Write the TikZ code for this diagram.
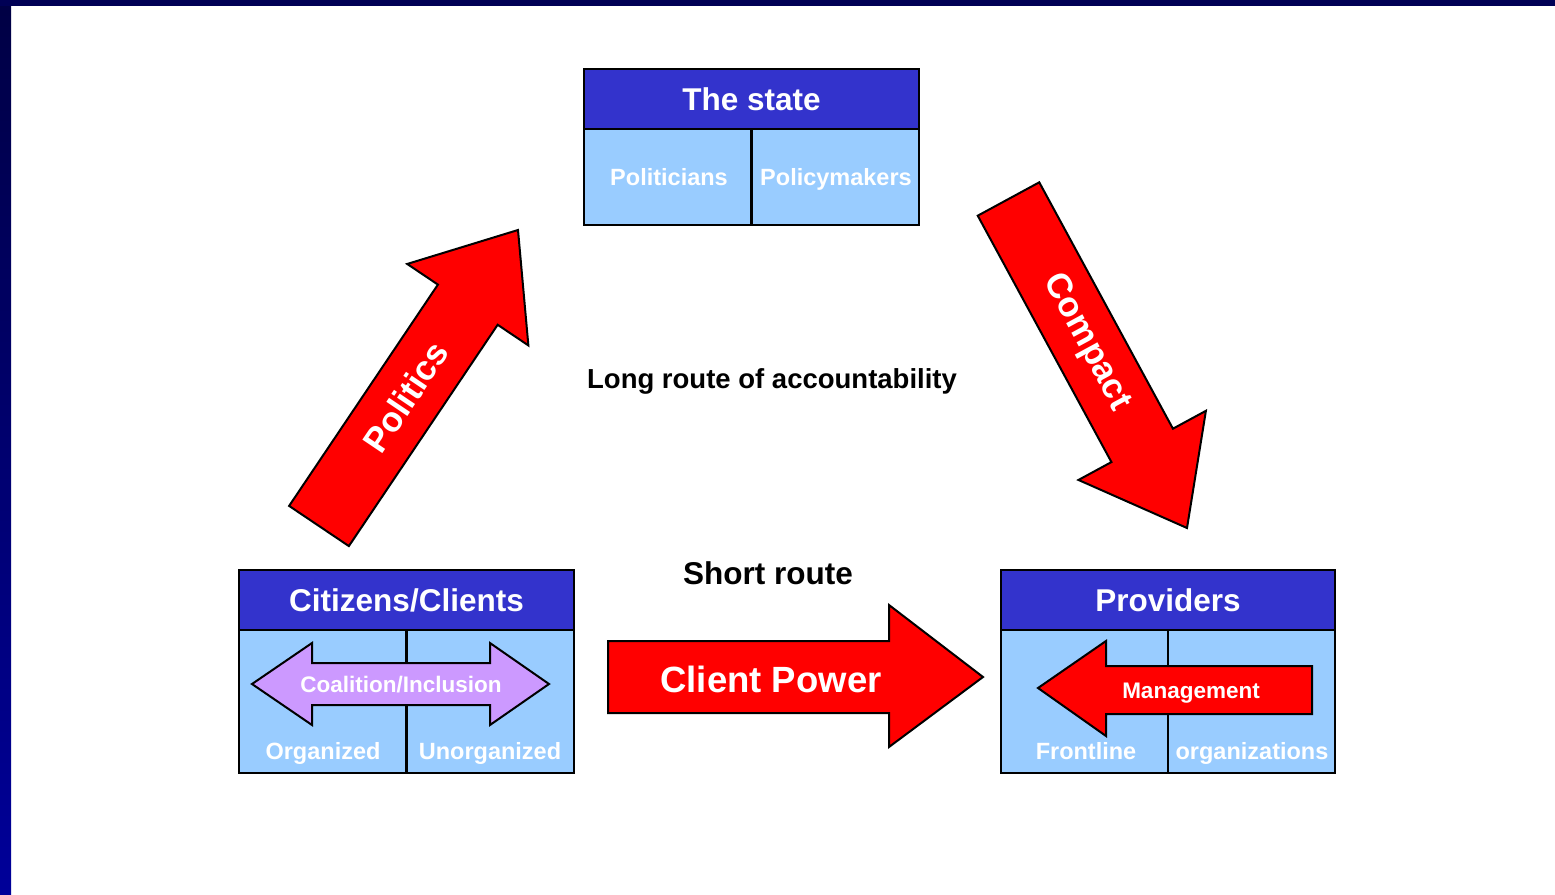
\documentclass[tikz,border=0pt]{standalone}
\usepackage{fontspec}
\setmainfont{Liberation Sans}
\usetikzlibrary{calc}
\definecolor{navy}{HTML}{000055}
\definecolor{hdblue}{HTML}{3333CC}
\definecolor{cellblue}{HTML}{99CCFF}
\definecolor{lilac}{HTML}{CC99FF}
\newcommand{\blockarrow}[6]{% name, tail, tip, half shaft, half head, head length
  \coordinate (#1-hb) at ($(#3)!#6!(#2)$);
  \draw[redarrow] ($(#2)!#4!90:(#3)$) -- ($(#1-hb)!#4!90:(#3)$) -- ($(#1-hb)!#5!90:(#3)$) -- (#3)
    -- ($(#1-hb)!#5!-90:(#3)$) -- ($(#1-hb)!#4!-90:(#3)$) -- ($(#2)!#4!-90:(#3)$) -- cycle;}
\tikzset{
  headbox/.style={draw=black,line width=2.5pt,fill=hdblue,text=white,outer sep=0pt,inner sep=0pt,
    minimum height=60pt,font=\fontsize{31.5}{31.5}\selectfont\bfseries},
  cellbox/.style={draw=black,line width=2.5pt,fill=cellblue,outer sep=0pt,inner sep=0pt},
  celltext/.style={text=white,text height=17pt,text depth=5pt,font=\fontsize{23.5}{23.5}\selectfont\bfseries},
  redarrow/.style={draw=black,line width=2pt,fill=red,line join=miter},
  arrowtext/.style={text=white,font=\fontsize{35}{35}\selectfont\bfseries},
  smalltext/.style={text=white,text height=16pt,text depth=5pt,font=\fontsize{22.5}{22.5}\selectfont\bfseries},
  routetext/.style={text=black,font=\bfseries},
}
\begin{document}
\begin{tikzpicture}[x=1pt,y=-1pt]
  \useasboundingbox (0,0) rectangle (1555,894);
  \fill[white] (0,0) rectangle (1555,894);
  \fill[top color=navy!80!black,bottom color={rgb,255:red,0;green,0;blue,153}] (0,0) rectangle (11,894);
  \fill[navy] (0,0) rectangle (1555,6);
  % the state
  \node[headbox,minimum width=335pt] (state) at (751.5,99) {The state};
  \node[cellbox,minimum width=167.5pt,minimum height=96pt,anchor=north west] (politicians) at (state.south west) {};
  \node[cellbox,minimum width=167.5pt,minimum height=96pt,anchor=north west] (policymakers) at (politicians.north east) {};
  \node[celltext] (politicianstext) at (669,179) {Politicians};
  \node[celltext] (policymakerstext) at (836,179) {Policymakers};
  % citizens
  \node[headbox,minimum width=335pt] (citizens) at (406.5,600) {Citizens/Clients};
  \node[cellbox,minimum width=167.5pt,minimum height=143pt,anchor=north west] (organized) at (citizens.south west) {};
  \node[cellbox,minimum width=167.5pt,minimum height=143pt,anchor=north west] (unorganized) at (organized.north east) {};
  \node[celltext] (organizedtext) at (323,753) {Organized};
  \node[celltext] (unorganizedtext) at (490,753) {Unorganized};
  % providers
  \node[headbox,minimum width=334pt] (providers) at (1168,600) {Providers};
  \node[cellbox,minimum width=167pt,minimum height=143pt,anchor=north west] (frontline) at (providers.south west) {};
  \node[cellbox,minimum width=167pt,minimum height=143pt,anchor=north west] (organizations) at (frontline.north east) {};
  \node[celltext] (frontlinetext) at (1086,753) {Frontline};
  \node[celltext] (organizationstext) at (1252,753) {organizations};
  % inner arrows
  \draw[redarrow,fill=lilac] (252,684) -- (312,643) -- (312,663) -- (490,663) -- (490,643) -- (549,684)
    -- (490,725) -- (490,705) -- (312,705) -- (312,725) -- cycle;
  \node[smalltext] (coalition) at (401,687) {Coalition/Inclusion};
  \draw[redarrow] (1038,688) -- (1106,641) -- (1106,666) -- (1312,666) -- (1312,714) -- (1106,714) -- (1106,736) -- cycle;
  \node[smalltext] (management) at (1191,693) {Management};
  % big arrows
  \draw[redarrow] (608,641) -- (889,641) -- (889,605) -- (983,677) -- (889,747) -- (889,713) -- (608,713) -- cycle;
  \node[arrowtext,font=\fontsize{36.5}{36.5}\selectfont\bfseries] (clientpower) at (771,679) {Client Power};
  \coordinate (poltail) at (319,526);
  \coordinate (poltip) at (518,230);
  \blockarrow{pol}{poltail}{poltip}{36pt}{73pt}{90pt}
  \node[arrowtext,rotate=56] (politics) at ($(poltail)!0.435!(poltip)$) {Politics};
  \coordinate (comtail) at (1008.5,199);
  \coordinate (comtip) at (1187,528);
  \blockarrow{com}{comtail}{comtip}{35pt}{72.5pt}{94pt}
  \node[arrowtext,rotate=-61.5] (compact) at ($(comtail)!0.436!(comtip)$) {Compact};
  \node[routetext,font=\fontsize{27.5}{27.5}\selectfont\bfseries] (longroute) at (772,381) {Long route of accountability};
  \node[routetext,font=\fontsize{31.5}{31.5}\selectfont\bfseries] (shortroute) at (768,573) {Short route};
\end{tikzpicture}
\end{document}
